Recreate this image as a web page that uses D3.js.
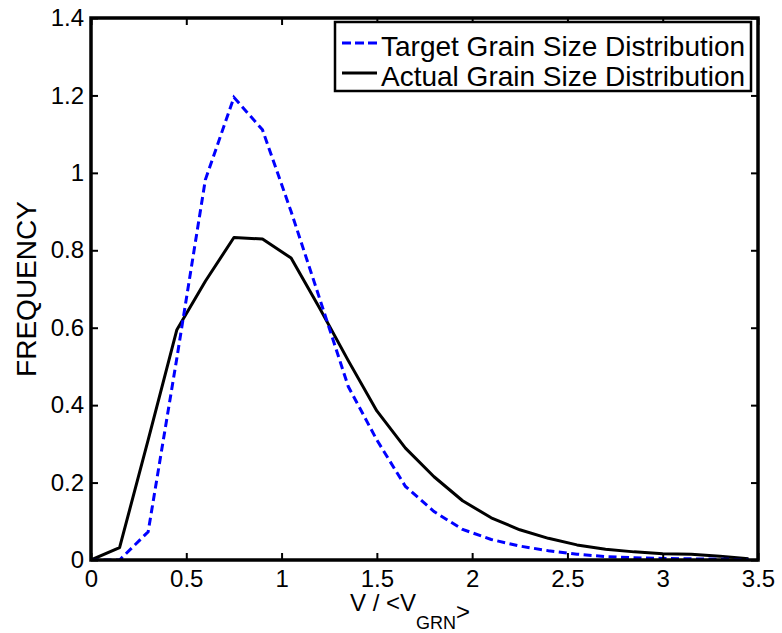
<!DOCTYPE html>
<html>
<head>
<meta charset="utf-8">
<script src="https://cdn.jsdelivr.net/npm/d3@7"></script>
<style>
  body { margin: 0; background: #fff; }
  svg text { font-family: "Liberation Sans", Arial, sans-serif; fill: #000; }
</style>
</head>
<body>
<svg id="chart" width="782" height="633"></svg>
<script>
// bin centres, V / <V_GRN>
const binCenters = [0, 0.15, 0.3, 0.45, 0.6, 0.75, 0.9, 1.05, 1.2, 1.35, 1.5, 1.65,
    1.8, 1.95, 2.1, 2.25, 2.4, 2.55, 2.7, 2.85, 3.0, 3.15, 3.3, 3.45];
const targetFreq = [0, 0, 0.073, 0.52, 0.982, 1.195, 1.111, 0.9, 0.675, 0.448, 0.31, 0.19,
    0.125, 0.079, 0.053, 0.036, 0.024, 0.015, 0.009, 0.006, 0.004, 0.003, 0.002, 0.001];
const actualFreq = [0, 0.032, 0.31, 0.594, 0.72, 0.833, 0.829, 0.78, 0.65, 0.515, 0.385, 0.289,
    0.215, 0.153, 0.109, 0.078, 0.056, 0.039, 0.028, 0.021, 0.016, 0.015, 0.01, 0.003];
const xTicks = [0, 0.5, 1, 1.5, 2, 2.5, 3, 3.5];
const yTicks = [0, 0.2, 0.4, 0.6, 0.8, 1, 1.2, 1.4];
const seriesNames = ["Target Grain Size Distribution", "Actual Grain Size Distribution"];

const svg = d3.select("#chart");
const margin = {left: 91, right: 24, top: 18, bottom: 73};
const W = 782, H = 633;

const x = d3.scaleLinear().domain([0, 3.5]).range([margin.left, W - margin.right]);
const y = d3.scaleLinear().domain([0, 1.4]).range([H - margin.bottom, margin.top]);

const tickFont = 24;
const tickLen = 7;

// data lines, clipped to the axes box
svg.append("clipPath").attr("id", "plotClip")
    .append("rect")
    .attr("x", x(0)).attr("y", y(1.4))
    .attr("width", x(3.5) - x(0)).attr("height", y(0) - y(1.4));

const line = d3.line().x(d => x(d[0])).y(d => y(d[1]));

const plot = svg.append("g").attr("clip-path", "url(#plotClip)");

plot.append("path")
    .datum(binCenters.map((v, i) => [v, actualFreq[i]]))
    .attr("fill", "none")
    .attr("stroke", "#000")
    .attr("stroke-width", 3)
    .attr("stroke-linejoin", "round")
    .attr("d", line);

plot.append("path")
    .datum(binCenters.map((v, i) => [v, targetFreq[i]]))
    .attr("fill", "none")
    .attr("stroke", "#0000ff")
    .attr("stroke-width", 3)
    .attr("stroke-dasharray", "8,4.5")
    .attr("d", line);

// axes (ticks point inward, MATLAB style box)
const xAxisBottom = d3.axisBottom(x).tickValues(xTicks).tickSize(-tickLen).tickPadding(10)
    .tickFormat(d3.format("~g"));
const xAxisTop = d3.axisTop(x).tickValues(xTicks).tickSize(-tickLen).tickFormat("");
const yAxisLeft = d3.axisLeft(y).tickValues(yTicks).tickSize(-tickLen).tickPadding(7)
    .tickFormat(d3.format("~g"));
const yAxisRight = d3.axisRight(y).tickValues(yTicks).tickSize(-tickLen).tickFormat("");

function styleAxis(g) {
    g.select(".domain").remove();
    g.selectAll(".tick line").attr("stroke", "#000").attr("stroke-width", 2);
    g.selectAll(".tick text").attr("font-size", tickFont)
        .attr("font-family", "Liberation Sans, Arial, sans-serif")
        .attr("fill", "#000");
}

svg.append("g").attr("transform", `translate(0,${y(0)})`).call(xAxisBottom).call(styleAxis);
svg.append("g").attr("transform", `translate(0,${y(1.4)})`).call(xAxisTop).call(styleAxis);
svg.append("g").attr("transform", `translate(${x(0)},0)`).call(yAxisLeft).call(styleAxis);
svg.append("g").attr("transform", `translate(${x(3.5)},0)`).call(yAxisRight).call(styleAxis);

// box
svg.append("rect")
    .attr("x", x(0)).attr("y", y(1.4))
    .attr("width", x(3.5) - x(0)).attr("height", y(0) - y(1.4))
    .attr("fill", "none").attr("stroke", "#000").attr("stroke-width", 3.5);

// axis labels
const xLabel = svg.append("text")
    .attr("x", 350)
    .attr("y", 611)
    .attr("font-size", 24);
xLabel.append("tspan").text("V / <V");
xLabel.append("tspan").attr("dy", 18).attr("font-size", 18).text("GRN");
xLabel.append("tspan").attr("dy", -9).text(">");

svg.append("text")
    .attr("transform", `translate(36,${(y(0) + y(1.4)) / 2}) rotate(-90)`)
    .attr("text-anchor", "middle")
    .attr("font-size", 28)
    .text("FREQUENCY");

// legend
const legend = svg.append("g");
legend.append("rect")
    .attr("x", 335).attr("y", 22).attr("width", 416).attr("height", 69)
    .attr("fill", "#fff").attr("stroke", "#000").attr("stroke-width", 2.5);

const legendStyles = [
    {stroke: "#0000ff", dash: "9,4"},
    {stroke: "#000", dash: null}
];
seriesNames.forEach((name, i) => {
    const ly = 43 + i * 30;
    legend.append("line")
        .attr("x1", 342).attr("x2", 377).attr("y1", ly).attr("y2", ly)
        .attr("stroke", legendStyles[i].stroke)
        .attr("stroke-width", 3)
        .attr("stroke-dasharray", legendStyles[i].dash);
    legend.append("text")
        .attr("x", 381).attr("y", ly + 13)
        .attr("font-size", 28)
        .text(name);
});
</script>
</body>
</html>
